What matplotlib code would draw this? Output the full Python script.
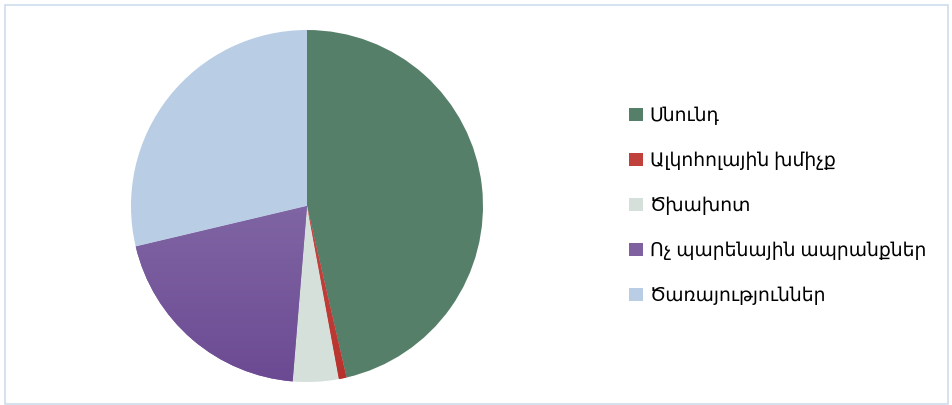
import numpy as np
import matplotlib.pyplot as plt
from matplotlib.patches import Rectangle
from matplotlib.colors import LinearSegmentedColormap

plt.rcParams['font.family'] = ['Noto Sans', 'DejaVu Sans']

# data (shares in %)
labels = ["Սնունդ", "Ալկոհոլային խմիչք", "Ծխախոտ",
          "Ոչ պարենային ապրանքներ", "Ծառայություններ"]
shares = [46.4, 0.7, 4.2, 20.0, 28.7]
colors = ["#567f6a", "#c0413c", "#d6e0da", "#7f61a0", "#b9cde5"]

W, H = 952, 405
fig = plt.figure(figsize=(W / 100, H / 100), dpi=100)

# pie centred at (307, 206) px, radius 176 px
cx, cy, r = 307, 206, 176
ax = fig.add_axes([(cx - r) / W, (H - cy - r) / H, 2 * r / W, 2 * r / H])
wedges, _ = ax.pie(shares, colors=colors, startangle=90, counterclock=False,
                   radius=1.0, wedgeprops=dict(linewidth=0))

# vertical gradient on the purple and red slices
grads = {3: ("#9380b4", "#6c4a93"), 1: ("#d0615c", "#b8322d")}
for i, (top, bot) in grads.items():
    cmap = LinearSegmentedColormap.from_list("g%d" % i, [bot, top])
    img = ax.imshow(np.linspace(0, 1, 256).reshape(-1, 1), cmap=cmap,
                    extent=[-1, 1, -1, 1], origin="lower", aspect="auto",
                    zorder=wedges[i].get_zorder())
    img.set_clip_path(wedges[i])
ax.set_xlim(-1, 1)
ax.set_ylim(-1, 1)
ax.set_aspect("equal")

leg = fig.legend(wedges, labels, loc="center left",
                 bbox_to_anchor=(620 / W, (H - 206) / H),
                 frameon=False, fontsize=13.5, labelspacing=1.42,
                 handlelength=0.7, handleheight=0.7, handletextpad=0.38,
                 borderpad=0)

# thin light-blue frame around the chart
fig.patches.append(Rectangle((4.5 / W, 1.5 / H), (W - 9) / W, (H - 6) / H,
                             transform=fig.transFigure, fill=False,
                             edgecolor="#d0ddef", linewidth=1.2))

fig.savefig("out.png", dpi=100)
